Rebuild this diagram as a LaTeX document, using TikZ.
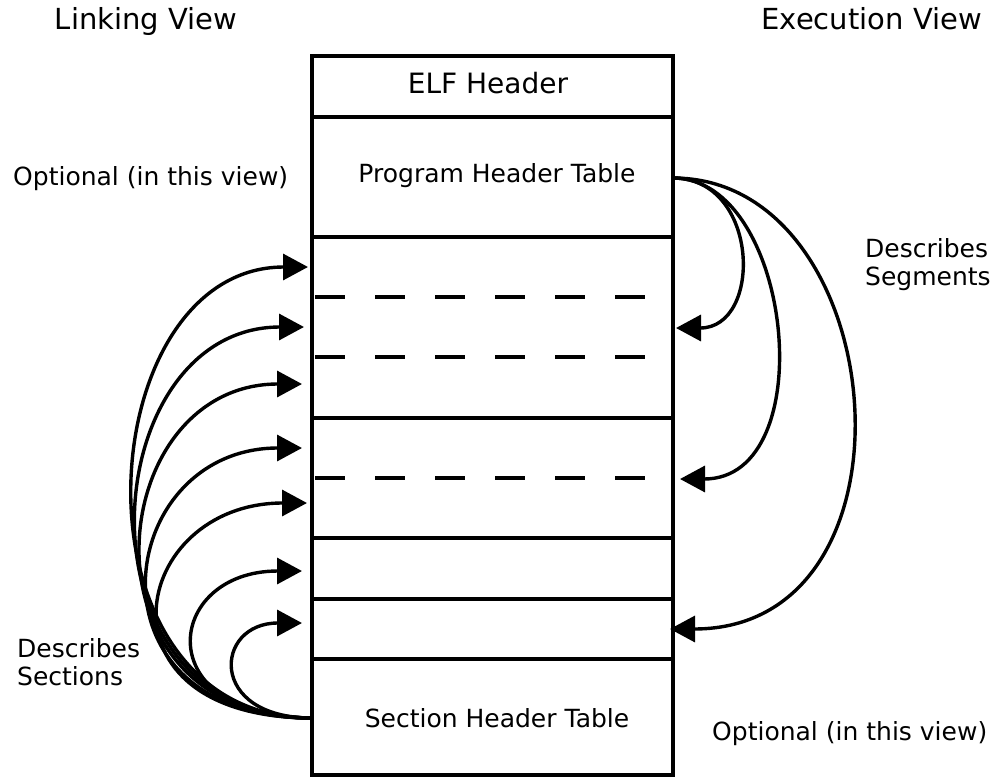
\documentclass[tikz,border=0pt]{standalone}
\usepackage{fontspec}
\setmainfont{DejaVu Sans}
\usetikzlibrary{arrows.meta}
\begin{document}
\begin{tikzpicture}[x=1pt,y=-1pt,
  boxline/.style={line width=4.6pt},
  dashline/.style={line width=4.4pt, dash pattern=on 30pt off 30pt},
  link/.style={line width=3.4pt, -{Triangle[length=25pt,width=26pt]}},
  body/.style={inner sep=0pt, font=\fontsize{25}{28}\selectfont},
  head/.style={inner sep=0pt, font=\fontsize{29}{34}\selectfont}]
\useasboundingbox (0,0) rectangle (994,780);
% box
\draw[boxline] (312,56) rectangle (673,775);
\foreach \yy in {117,237,418,538,599,659} \draw[boxline] (312,\yy) -- (673,\yy);
\foreach \yy in {297,357,478} \draw[dashline] (315,\yy) -- (645,\yy);
% texts
\node[head, anchor=base] (lv) at (146,29) {Linking View};
\node[head, anchor=base east] (ev) at (982,29) {Execution View};
\node[inner sep=0pt, font=\fontsize{28}{32}\selectfont, anchor=base] (elf) at (488,93) {ELF Header};
\node[body, anchor=base] (pht) at (497,182) {Program Header Table};
\node[body, anchor=base west] (opt1) at (13,185) {Optional (in this view)};
\node[body, anchor=base] (sht) at (497,727) {Section Header Table};
\node[body, anchor=base west] (opt2) at (712,740) {Optional (in this view)};
\node[body, anchor=north west, align=left] (dseg) at (865,238) {Describes\\Segments};
\node[body, anchor=north west, align=left] (dsec) at (17,638) {Describes\\Sections};
% left connectors
\coordinate (ls) at (312,718);
\coordinate (l1) at (308,267);
\coordinate (l2) at (304,327);
\coordinate (l3) at (302,384);
\coordinate (l4) at (302,448);
\coordinate (l5) at (307,503);
\coordinate (l6) at (302,571);
\coordinate (l7) at (302,623);
\draw[link] (ls) .. controls ++(-250,0) and ++(-220,0) .. (l1);
\draw[link] (ls) .. controls ++(-245,0) and ++(-210,0) .. (l2);
\draw[link] (ls) .. controls ++(-240,0) and ++(-200,0) .. (l3);
\draw[link] (ls) .. controls ++(-235,0) and ++(-188,0) .. (l4);
\draw[link] (ls) .. controls ++(-225,0) and ++(-176,0) .. (l5);
\draw[link] (ls) .. controls ++(-165,0) and ++(-138,0) .. (l6);
\draw[link] (ls) .. controls ++(-105,0) and ++(-88,0) .. (l7);
% right connectors
\coordinate (rs) at (673,178);
\coordinate (r1) at (676,328);
\coordinate (r2) at (680,479);
\coordinate (r3) at (670,629);
\draw[link] (rs) .. controls ++(87,0) and ++(87,0) .. (r1);
\draw[link] (rs) .. controls ++(120,0) and ++(143,0) .. (r2);
\draw[link] (rs) .. controls ++(220,0) and ++(260,0) .. (r3);
\end{tikzpicture}
\end{document}
